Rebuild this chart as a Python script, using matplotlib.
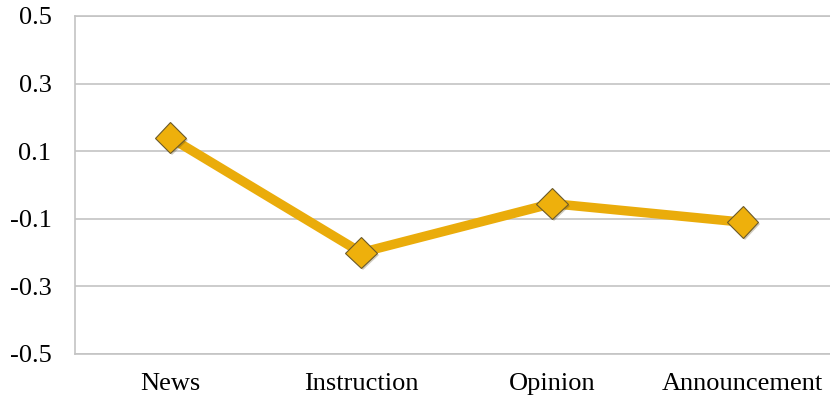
import matplotlib
matplotlib.use("Agg")
import matplotlib.pyplot as plt
import matplotlib.patheffects as pe

categories = ["News", "Instruction", "Opinion", "Announcement"]
values = [0.14, -0.20, -0.055, -0.11]
yticks = [-0.5, -0.3, -0.1, 0.1, 0.3, 0.5]

plt.rcParams["font.family"] = ["Liberation Serif", "DejaVu Serif"]

fig = plt.figure(figsize=(8.3, 4.03), dpi=100)
ax = fig.add_axes([75 / 830, 1 - 354 / 403, 763 / 830, 338 / 403])

gold = "#EAAC0B"
x = list(range(len(categories)))
ax.plot(x, values, color=gold, lw=6.8, solid_capstyle="butt", zorder=3)
ax.plot(x, values, ls="none", marker="D", ms=16, mfc="#EEB00C", mec="#6b5a2a", mew=0.8,
        zorder=4, path_effects=[pe.SimplePatchShadow(offset=(1.5, -1.5), alpha=0.25), pe.Normal()])

ax.set_xlim(-0.5, 3.5)
ax.set_ylim(-0.5, 0.5)
ax.set_yticks(yticks)
ax.set_yticklabels([f"{v:.1f}" for v in yticks])
ax.set_xticks(x)
ax.set_xticklabels(categories)
ax.tick_params(length=0, labelsize=19, colors="black")
ax.tick_params(axis="y", pad=17)
ax.tick_params(axis="x", pad=14)
ax.yaxis.grid(True, color="#c4c4c4", lw=1.2)
ax.set_axisbelow(True)
for s in ["left", "bottom", "top"]:
    ax.spines[s].set_color("#c4c4c4")
    ax.spines[s].set_linewidth(1.2)
ax.spines["right"].set_visible(False)

fig.savefig("out.png", dpi=100)
